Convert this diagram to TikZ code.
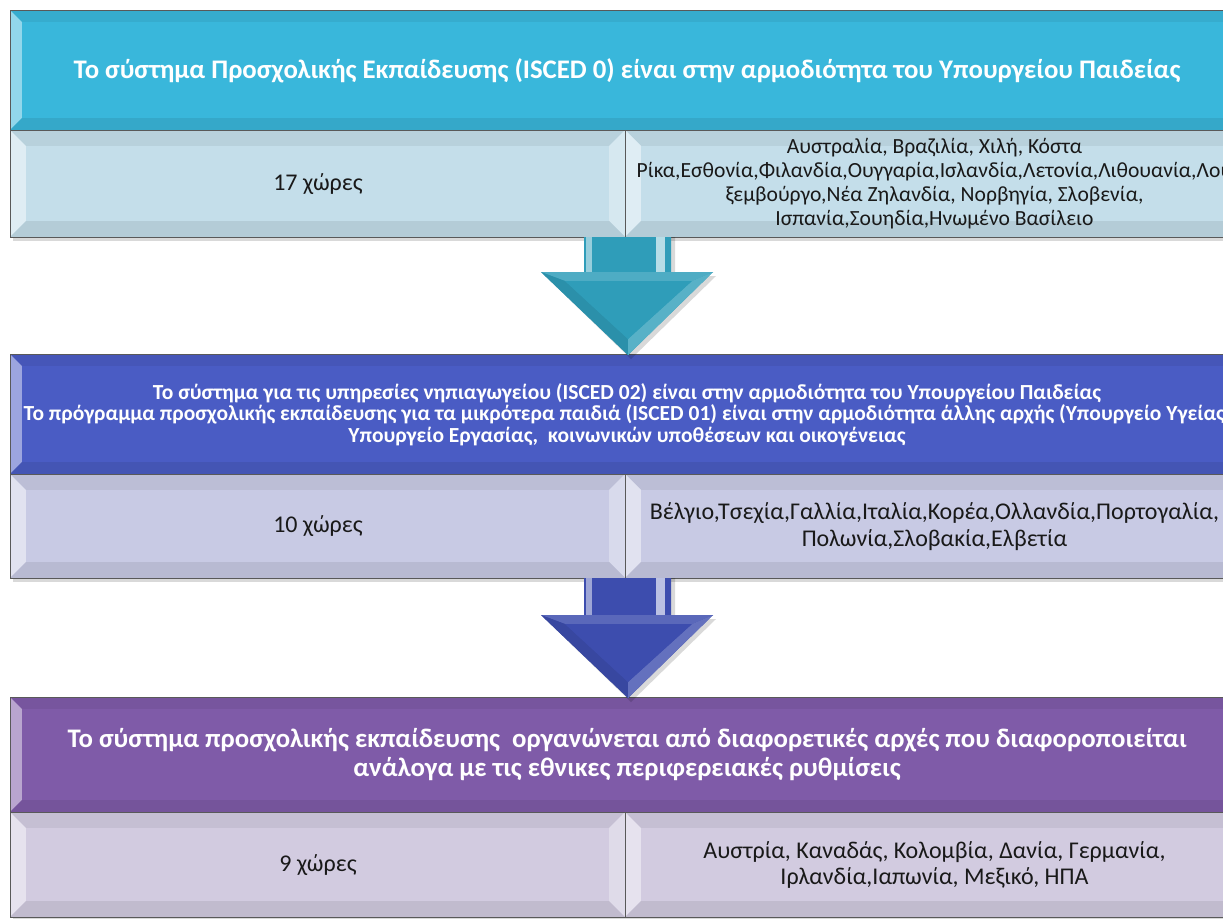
\documentclass[tikz,border=0pt]{standalone}
\usepackage{fontspec}
\setmainfont{Carlito}
\definecolor{hdrA}{RGB}{57,183,219}
\definecolor{rowA}{RGB}{196,222,234}
\definecolor{arrA}{RGB}{47,157,185}
\definecolor{hdrB}{RGB}{74,92,196}
\definecolor{rowB}{RGB}{200,202,228}
\definecolor{arrB}{RGB}{61,77,174}
\definecolor{hdrC}{RGB}{127,91,168}
\definecolor{rowC}{RGB}{210,203,224}
% bevelled face: x1 y1 x2 y2 colour bevel
\newcommand{\bevelfill}[6]{%
 \fill[black,opacity=0.15] ({#1+3},{#2+4}) rectangle ({#3+3},{#4+4});
 \fill[#5] (#1,#2) rectangle (#3,#4);
 \fill[#5!94!black] (#1,#2) -- (#3,#2) -- ({#3-#6},{#2+#6}) -- ({#1+#6},{#2+#6}) -- cycle;
 \fill[#5!55!white] (#1,#2) -- ({#1+#6},{#2+#6}) -- ({#1+#6},{#4-#6}) -- (#1,#4) -- cycle;
 \fill[#5!70!white] (#3,#2) -- (#3,#4) -- ({#3-#6},{#4-#6}) -- ({#3-#6},{#2+#6}) -- cycle;
 \fill[#5!92!black] (#1,#4) -- (#3,#4) -- ({#3-#6},{#4-#6}) -- ({#1+#6},{#4-#6}) -- cycle;
 \fill[#5] ({#1+#6},{#2+#6}) rectangle ({#3-#6},{#4-#6});
}
% big down arrow: #1 top y, #2 head y, #3 tip y, #4 colour
\newcommand{\bigarrow}[4]{%
 \fill[black,opacity=0.15] (588,{#1}) -- (675,{#1}) -- (675,{#2+4}) -- (716,{#2+4}) -- (631,{#3+4}) -- (545,{#2+4}) -- (588,{#2+4}) -- cycle;
 \fill[#4] (584,{#1}) -- (671,{#1}) -- (671,#2) -- (713,#2) -- (628,#3) -- (541,#2) -- (584,#2) -- cycle;
 \fill[#4!50!white] (586,{#1}) rectangle (592,{#2+10});
 \fill[#4!35!white] (656,{#1}) rectangle (665,{#2+10});
 \fill[#4!85!white] (541,#2) -- (713,#2) -- (692,{#2+9}) -- (565,{#2+9}) -- cycle;
 \fill[#4!92!black] (541,#2) -- (565,{#2+9}) -- (628,{#3-16}) -- (628,#3) -- cycle;
 \fill[#4!80!white] (713,#2) -- (692,{#2+9}) -- (628,{#3-16}) -- (628,#3) -- cycle;
 \fill[#4] (565,{#2+9}) -- (692,{#2+9}) -- (628,{#3-16}) -- cycle;
}
\tikzset{
 frame/.style={draw=black!65, line width=1pt, inner sep=0pt, anchor=north west},
 hdrtext/.style={font=\bfseries\fontsize{26.8}{29}\selectfont, text=white, align=center},
 hdrsmall/.style={font=\bfseries\fontsize{21.5}{21.5}\selectfont, text=white, align=center},
 rowtext/.style={font=\fontsize{24}{26.5}\selectfont, text=black!90, align=center},
 rowsmall/.style={font=\fontsize{21.6}{24}\selectfont, text=black!90, align=center},
}
\begin{document}
\begin{tikzpicture}[x=1pt,y=-1pt]
\useasboundingbox (0,0) rectangle (1223,918);
\clip (0,0) rectangle (1223,918);
\fill[white] (0,0) rectangle (1223,918);
% --- level 1
\bevelfill{10}{10}{1243}{130}{hdrA}{12}
\node[frame, hdrtext, minimum width=1233pt, minimum height=120pt] (h1) at (10,10)
 {Το σύστημα Προσχολικής Εκπαίδευσης (ISCED 0) είναι στην αρμοδιότητα του Υπουργείου Παιδείας};
\bevelfill{10}{130}{625}{237}{rowA}{16}
\bevelfill{625}{130}{1243}{237}{rowA}{16}
\node[frame, rowtext, minimum width=615pt, minimum height=107pt] (c1) at (10,130) {17 χώρες};
\node[frame, rowsmall, minimum width=618pt, minimum height=107pt] (l1) at (625,130)
 {Αυστραλία, Βραζιλία, Χιλή, Κόστα\\Ρίκα,Εσθονία,Φιλανδία,Ουγγαρία,Ισλανδία,Λετονία,Λιθουανία,Λου\\ξεμβούργο,Νέα Ζηλανδία, Νορβηγία, Σλοβενία,\\Ισπανία,Σουηδία,Ηνωμένο Βασίλειο};
% --- level 2
\bevelfill{10}{354}{1243}{474}{hdrB}{12}
\node[frame, hdrsmall, minimum width=1233pt, minimum height=120pt] (h2) at (10,354)
 {Το σύστημα για τις υπηρεσίες νηπιαγωγείου (ISCED 02) είναι στην αρμοδιότητα του Υπουργείου Παιδείας\\
  Το πρόγραμμα προσχολικής εκπαίδευσης για τα μικρότερα παιδιά (ISCED 01) είναι στην αρμοδιότητα άλλης αρχής (Υπουργείο Υγείας,\\
  Υπουργείο Εργασίας,\ \ κοινωνικών υποθέσεων και οικογένειας};
\bevelfill{10}{474}{625}{578}{rowB}{16}
\bevelfill{625}{474}{1243}{578}{rowB}{16}
\node[frame, rowtext, minimum width=615pt, minimum height=104pt] (c2) at (10,474) {10 χώρες};
\node[frame, rowtext, minimum width=618pt, minimum height=104pt] (l2) at (625,474)
 {Βέλγιο,Τσεχία,Γαλλία,Ιταλία,Κορέα,Ολλανδία,Πορτογαλία,\\Πολωνία,Σλοβακία,Ελβετία};
% --- level 3
\bevelfill{10}{697}{1243}{812}{hdrC}{12}
\node[frame, hdrtext, minimum width=1233pt, minimum height=115pt] (h3) at (10,697)
 {Το σύστημα προσχολικής εκπαίδευσης\ \ οργανώνεται από διαφορετικές αρχές που διαφοροποιείται\\
  ανάλογα με τις εθνικες περιφερειακές ρυθμίσεις};
\bevelfill{10}{812}{625}{917}{rowC}{16}
\bevelfill{625}{812}{1243}{917}{rowC}{16}
\node[frame, rowtext, minimum width=615pt, minimum height=105pt] (c3) at (10,812) {9 χώρες};
\node[frame, rowtext, minimum width=618pt, minimum height=105pt] (l3) at (625,812)
 {Αυστρία, Καναδάς, Κολομβία, Δανία, Γερμανία,\\Ιρλανδία,Ιαπωνία, Μεξικό, ΗΠΑ};
% --- arrows
\bigarrow{237}{272}{355}{arrA}
\bigarrow{578}{615}{698}{arrB}
\end{tikzpicture}
\end{document}
